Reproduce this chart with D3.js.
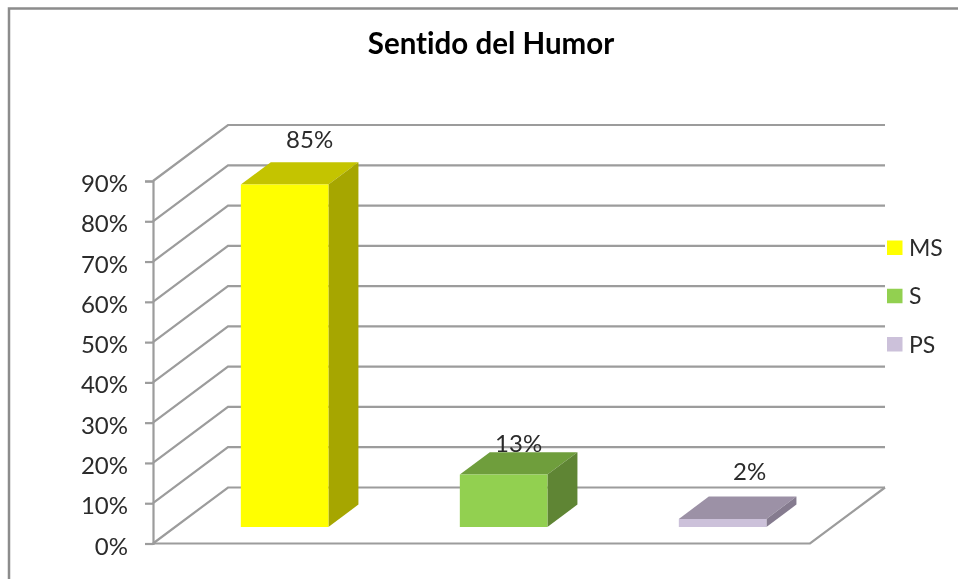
<!DOCTYPE html>
<html>
<head>
<meta charset="utf-8">
<script src="https://cdnjs.cloudflare.com/ajax/libs/d3/7.8.5/d3.min.js"></script>
<style>
    html, body { margin: 0; padding: 0; background: #fff; }
    svg { display: block; filter: blur(0.45px); }
    text { font-family: Lato, "Open Sans", sans-serif; fill: #2b2b2b; font-variant-ligatures: none; }
</style>
</head>
<body>
<svg id="chart" width="958" height="579"></svg>
<script>
var chartTitle = "Sentido del Humor";
var categories = ["MS", "S", "PS"];
var values = [85, 13, 2];
var valueLabels = ["85%", "13%", "2%"];
var tickValues = [0, 10, 20, 30, 40, 50, 60, 70, 80, 90];
var faceColors = ["#ffff00", "#92d050", "#ccc1da"];
var topColors = ["#c4c400", "#6f9e3c", "#9c91a6"];
var sideColors = ["#a6a600", "#5f8534", "#857b8f"];

var gridColor = "#9c9c9c";
var svg = d3.select("#chart");

// front plane of the box
var xScale = d3.scaleBand().domain(categories).range([153, 810]).paddingInner(0.6).paddingOuter(0.3);
var yScale = d3.scaleLinear().domain([0, 90]).range([543.5, 181]);
// how far a point goes back into the box, 0 front, 1 back wall
var depthX = d3.scaleLinear().domain([0, 1]).range([0, 75]);
var depthY = d3.scaleLinear().domain([0, 1]).range([0, 56]);
var barFront = 0.295, barBack = 0.695;
// labels were placed by hand in the original, 13% sits on the bar
var labelShift = [[0, 0], [-10, 14], [2, -2]];

function pt(x, v, depth) {
    return [x + depthX(depth), yScale(v) - depthY(depth)];
}

var line = d3.line();

// outer frame
svg.append("path")
    .attr("d", "M9,579V8.5H958")
    .attr("fill", "none")
    .attr("stroke", "#8c8c8c")
    .attr("stroke-width", 2.5);

svg.append("text")
    .attr("x", 491)
    .attr("y", 54)
    .attr("text-anchor", "middle")
    .style("font-size", "29.5px")
    .style("font-weight", 700)
    .style("fill", "#000")
    .text(chartTitle);

// gridlines, side wall + back wall
var gridG = svg.append("g");
gridG.selectAll("path").data(tickValues).enter().append("path")
    .attr("d", function (d) {
        return line([pt(153, d, 0), pt(153, d, 1), pt(810, d, 1)]);
    })
    .attr("fill", "none")
    .attr("stroke", gridColor)
    .attr("stroke-width", 2.2);

// floor, front edge and right edge
gridG.append("path")
    .attr("d", line([pt(153, 0, 0), pt(810, 0, 0), pt(810, 0, 1)]))
    .attr("fill", "none")
    .attr("stroke", gridColor)
    .attr("stroke-width", 2.2);

// value axis
var axis = d3.axisLeft(yScale)
    .tickValues(tickValues)
    .tickSize(8)
    .tickPadding(17)
    .tickFormat(function (d) { return d + "%"; });

var axisG = svg.append("g").attr("transform", "translate(153,0)").call(axis);
axisG.selectAll("path,line").attr("stroke", gridColor).attr("stroke-width", 2.2);
axisG.selectAll("text")
    .attr("dy", "0.44em")
    .style("font-size", "24px")
    .style("font-family", "Lato, sans-serif");

// bars
var bars = svg.selectAll("g.bar").data(categories).enter().append("g").attr("class", "bar");

bars.append("path")
    .attr("fill", function (d, i) { return topColors[i]; })
    .attr("d", function (d, i) {
        var x0 = xScale(d), x1 = x0 + xScale.bandwidth(), v = values[i];
        return line([pt(x0, v, barFront), pt(x1, v, barFront), pt(x1, v, barBack), pt(x0, v, barBack)]) + "Z";
    });

bars.append("path")
    .attr("fill", function (d, i) { return sideColors[i]; })
    .attr("d", function (d, i) {
        var x1 = xScale(d) + xScale.bandwidth(), v = values[i];
        return line([pt(x1, 0, barFront), pt(x1, v, barFront), pt(x1, v, barBack), pt(x1, 0, barBack)]) + "Z";
    });

bars.append("path")
    .attr("fill", function (d, i) { return faceColors[i]; })
    .attr("d", function (d, i) {
        var x0 = xScale(d), x1 = x0 + xScale.bandwidth(), v = values[i];
        return line([pt(x0, 0, barFront), pt(x1, 0, barFront), pt(x1, v, barFront), pt(x0, v, barFront)]) + "Z";
    });

// value labels sit above the bar centre
bars.append("text")
    .attr("text-anchor", "middle")
    .style("font-size", "24px")
    .attr("x", function (d, i) { return xScale(d) + xScale.bandwidth() / 2 + depthX(barBack) - 5 + labelShift[i][0]; })
    .attr("y", function (d, i) { return yScale(values[i]) - depthY(barBack) - 14.5 + labelShift[i][1]; })
    .text(function (d, i) { return valueLabels[i]; });

// legend
var legendY = d3.scalePoint().domain(categories).range([248, 344.5]);
var legend = svg.selectAll("g.legend").data(categories).enter().append("g").attr("class", "legend")
    .attr("transform", function (d) { return "translate(887," + legendY(d) + ")"; });
legend.append("rect")
    .attr("x", 0).attr("y", -7.5)
    .attr("width", 15.5).attr("height", 14.5)
    .attr("fill", function (d, i) { return faceColors[i]; });
legend.append("text")
    .attr("x", 22).attr("y", 8)
    .style("font-size", "23px")
    .text(function (d) { return d; });
</script>
</body>
</html>
